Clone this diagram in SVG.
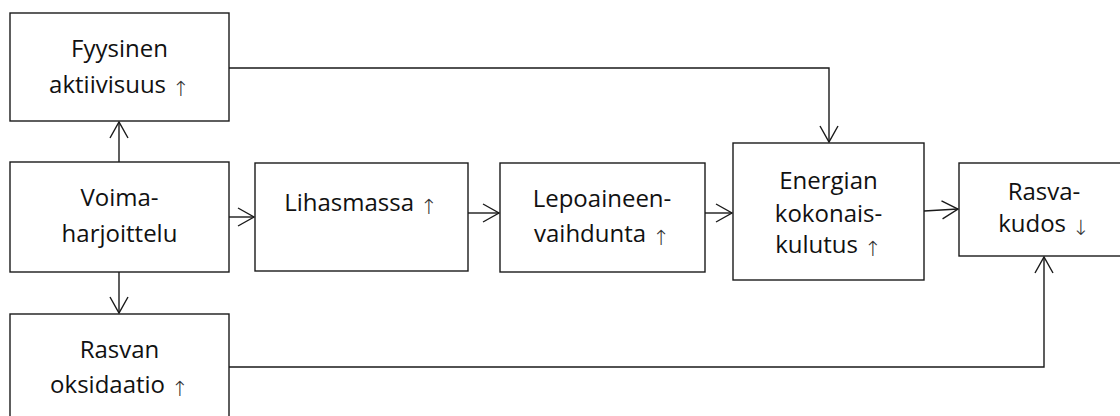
<svg xmlns="http://www.w3.org/2000/svg" width="1120" height="416" viewBox="0 0 1120 416">
<defs>
<style>
.box{fill:#fff;stroke:#1a1a1a;stroke-width:1.4}
.lbl{font-family:"Open Sans","Noto Sans",sans-serif;font-size:24px;fill:#111;text-anchor:middle}
.ar{font-family:"DejaVu Sans",sans-serif;font-weight:200;font-size:21px;fill:#333}
.con{fill:none;stroke:#1a1a1a;stroke-width:1.4}
</style>
<marker id="ah" markerUnits="userSpaceOnUse" markerWidth="20" markerHeight="22" viewBox="-18 -11 20 22" refX="0" refY="0" orient="auto">
<path d="M-16,-9 L0,0 L-16,9" fill="none" stroke="#1a1a1a" stroke-width="1.4"/>
</marker>
</defs>
<rect width="1120" height="416" fill="#fff"/>
<g id="connectors">
<path class="con" d="M119,162 V122" marker-end="url(#ah)"/>
<path class="con" d="M119,272 V313" marker-end="url(#ah)"/>
<path class="con" d="M229,217 H254" marker-end="url(#ah)"/>
<path class="con" d="M468,213 H499" marker-end="url(#ah)"/>
<path class="con" d="M705,213 H732" marker-end="url(#ah)"/>
<path class="con" d="M924,211 L958,209" marker-end="url(#ah)"/>
<path class="con" d="M229,68 H829 V142" marker-end="url(#ah)"/>
<path class="con" d="M229,367 H1044 V257" marker-end="url(#ah)"/>
</g>
<g id="n-fyysinen">
<rect class="box" x="10" y="13" width="219" height="108"/>
<text class="lbl" x="119.5" y="57">Fyysinen</text>
<text class="lbl" x="119.5" y="93">aktiivisuus <tspan class="ar" dy="3">↑</tspan></text>
</g>
<g id="n-voima">
<rect class="box" x="10" y="162" width="219" height="110"/>
<text class="lbl" x="119.5" y="206">Voima-</text>
<text class="lbl" x="119.5" y="242">harjoittelu</text>
</g>
<g id="n-rasvan">
<rect class="box" x="10" y="314" width="219" height="110"/>
<text class="lbl" x="119.5" y="358">Rasvan</text>
<text class="lbl" x="119.5" y="393">oksidaatio <tspan class="ar" dy="3">↑</tspan></text>
</g>
<g id="n-lihas">
<rect class="box" x="255" y="163" width="213" height="108"/>
<text class="lbl" x="361" y="211">Lihasmassa <tspan class="ar" dy="3">↑</tspan></text>
</g>
<g id="n-lepo">
<rect class="box" x="500" y="163" width="205" height="109"/>
<text class="lbl" x="602" y="207">Lepoaineen-</text>
<text class="lbl" x="602" y="242">vaihdunta <tspan class="ar" dy="3">↑</tspan></text>
</g>
<g id="n-energia">
<rect class="box" x="733" y="143" width="191" height="137"/>
<text class="lbl" x="828.5" y="189">Energian</text>
<text class="lbl" x="828.5" y="222">kokonais-</text>
<text class="lbl" x="828.5" y="253">kulutus <tspan class="ar" dy="3">↑</tspan></text>
</g>
<g id="n-rasvakudos">
<rect class="box" x="959" y="163" width="170" height="93"/>
<text class="lbl" x="1044" y="200">Rasva-</text>
<text class="lbl" x="1044" y="232">kudos <tspan class="ar" dy="3">↓</tspan></text>
</g>
</svg>
